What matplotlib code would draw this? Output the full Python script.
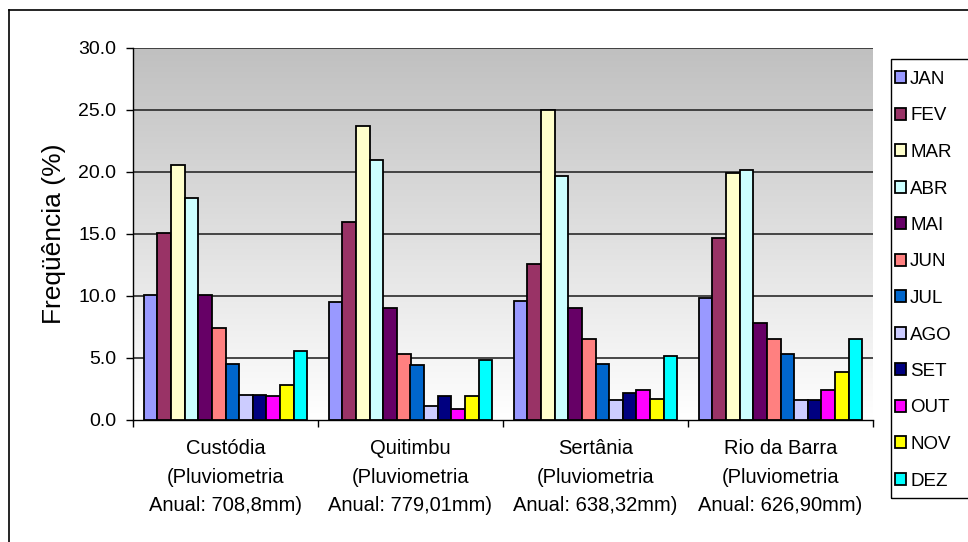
import numpy as np
import matplotlib
matplotlib.use("Agg")
import matplotlib.pyplot as plt
from matplotlib.patches import Rectangle
from matplotlib.lines import Line2D

plt.rcParams['font.family'] = ['Liberation Sans', 'DejaVu Sans']

stations = ["Custódia\n(Pluviometria\nAnual: 708,8mm)",
            "Quitimbu\n(Pluviometria\nAnual: 779,01mm)",
            "Sertânia\n(Pluviometria\nAnual: 638,32mm)",
            "Rio da Barra\n(Pluviometria\nAnual: 626,90mm)"]
months = ["JAN", "FEV", "MAR", "ABR", "MAI", "JUN", "JUL", "AGO", "SET", "OUT", "NOV", "DEZ"]

custodia = [10.1, 15.1, 20.6, 17.9, 10.1, 7.4, 4.5, 2.0, 2.0, 1.9, 2.8, 5.6]
quitimbu = [9.5, 16.0, 23.7, 21.0, 9.0, 5.3, 4.4, 1.1, 1.9, 0.9, 1.9, 4.8]
sertania = [9.6, 12.6, 25.0, 19.7, 9.0, 6.5, 4.5, 1.6, 2.2, 2.4, 1.7, 5.2]
rio_da_barra = [9.8, 14.7, 19.9, 20.2, 7.8, 6.5, 5.3, 1.6, 1.6, 2.4, 3.9, 6.5]

colors = ["#9999FF", "#993366", "#FFFFCC", "#CCFFFF", "#660066", "#FF8080",
          "#0066CC", "#CCCCFF", "#000080", "#FF00FF", "#FFFF00", "#00FFFF"]

data = np.array([custodia, quitimbu, sertania, rio_da_barra])

W, H = 968, 542
fig = plt.figure(figsize=(W / 100, H / 100), dpi=100)
ax = fig.add_axes([133 / W, 1 - 420 / H, 740 / W, 372 / H])

# gradient background
grad = np.linspace(0, 1, 256).reshape(-1, 1)
cmap = matplotlib.colors.LinearSegmentedColormap.from_list("g", ["#FFFFFF", "#C0C0C0"])
ax.imshow(grad, extent=[0, 4, 0, 30], origin="lower", aspect="auto", cmap=cmap, zorder=0)

nb = len(months)
bw = 0.886 / nb
x0 = np.arange(len(stations))
for i, m in enumerate(months):
    xs = x0 + 0.5 - 0.886 / 2 + bw * (i + 0.5)
    ax.bar(xs, data[:, i], width=bw, color=colors[i], edgecolor="black",
           linewidth=1.3, label=m, zorder=3)

ax.set_xlim(0, 4)
ax.set_ylim(0, 30)
ax.set_yticks(np.arange(0, 31, 5))
ax.set_yticklabels([f"{v:.1f}" for v in np.arange(0, 31, 5)], fontsize=14)
for v in np.arange(5, 31, 5):
    ax.axhline(v, color="#2a2a2a", lw=1.2, zorder=1)

ax.set_xticks(np.arange(0, 5))
ax.set_xticklabels([])
ax.set_xticks(x0 + 0.5, minor=True)
ax.set_xticklabels(stations, minor=True, fontsize=14.5, linespacing=1.63)
ax.tick_params(axis="x", which="minor", length=0, pad=14)
ax.tick_params(axis="x", which="major", length=5, direction="out", width=1)
ax.tick_params(axis="y", length=5, direction="out", width=1, pad=7)

for s in ["top", "right"]:
    ax.spines[s].set_visible(False)
ax.spines["left"].set_linewidth(1.0)
ax.spines["bottom"].set_linewidth(1.0)

ax.set_ylabel("Freqüência (%)", fontsize=19, labelpad=9)

# legend
fig.legend(loc="upper left", bbox_to_anchor=(895 / W, 1 - 71 / H), frameon=False,
           fontsize=13.5, handlelength=0.6, handleheight=0.6, handletextpad=0.2,
           labelspacing=1.04, borderaxespad=0, borderpad=0)
fig.patches.append(Rectangle((891 / W, 1 - 498 / H), 0.2, (498 - 59) / H,
                             transform=fig.transFigure, fill=False,
                             edgecolor="black", lw=1.0))
# outer frame
fig.lines.append(Line2D([9 / W, 1.0], [1 - 10 / H, 1 - 10 / H], transform=fig.transFigure,
                        color="black", lw=1.2))
fig.lines.append(Line2D([9 / W, 9 / W], [0, 1 - 10 / H], transform=fig.transFigure,
                        color="black", lw=1.2))

fig.savefig("out.png", dpi=100)
